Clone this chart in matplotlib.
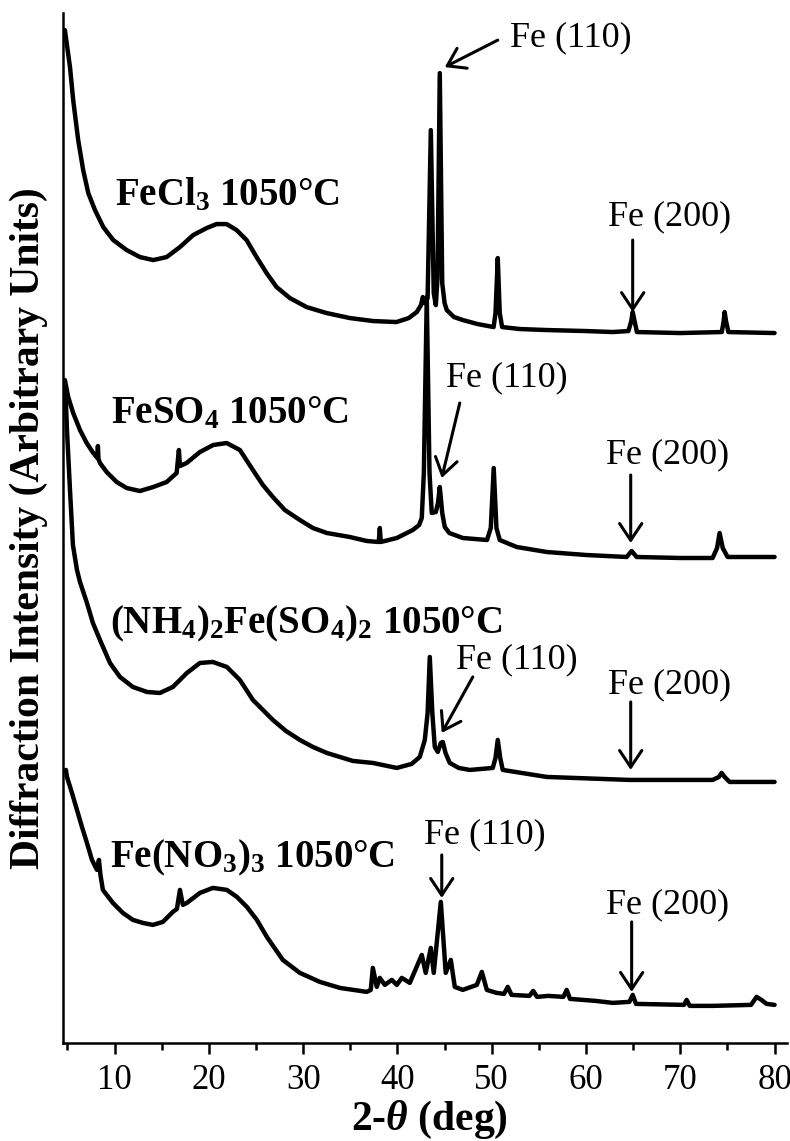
import numpy as np
import matplotlib
matplotlib.use('Agg')
import matplotlib.pyplot as plt
from matplotlib.ticker import MultipleLocator

plt.rcParams['font.family'] = ['Liberation Serif', 'DejaVu Serif']
plt.rcParams['mathtext.fontset'] = 'custom'
plt.rcParams['mathtext.rm'] = 'Liberation Serif'
plt.rcParams['mathtext.bf'] = 'Liberation Serif:bold'
plt.rcParams['mathtext.it'] = 'Liberation Serif:italic:bold'
plt.rcParams['mathtext.default'] = 'bf'

# XRD traces (2-theta in deg, intensity in arbitrary units, offsets included)
fecl3_x = [4.73, 5.27, 5.61, 6.14, 6.67, 7.21, 7.92, 8.80, 9.86, 11.28, 12.69, 14.10, 15.52,
           16.93, 18.34, 19.76, 20.82, 21.88, 22.94, 24.00, 25.06, 26.12, 27.18, 28.59, 30.36,
           32.48, 34.95, 37.42, 39.90, 41.2, 42.05, 42.5, 42.69, 42.9, 43.2, 43.54, 43.85,
           44.07, 44.25, 44.49, 44.75, 45.0, 45.23, 46.0, 46.93, 48.5, 50.2, 50.4, 50.64,
           50.85, 51.1, 53.0, 55.83, 60.0, 62.83, 64.5, 64.8, 64.95, 65.15, 65.4, 70.0,
           74.4, 74.6, 74.7, 74.85, 75.1, 80.0]
fecl3_y = [1013, 976, 943, 903, 873, 850, 833, 816, 803, 793, 786, 783, 786,
           796, 808, 815, 819, 819, 813, 803, 786, 770, 756, 745, 736,
           730, 725, 722, 721, 725, 731, 738, 746, 740, 745, 913, 750,
           738, 765, 970, 760, 740, 733, 726, 723, 719, 716, 730, 785,
           730, 716, 714, 713, 712, 711, 712, 722, 731, 722, 711, 710,
           711, 722, 731, 722, 711, 710]

feso4_x = [4.73, 5.08, 5.61, 6.33, 7.04, 7.74, 8.18, 8.23, 8.29, 8.45, 9.16, 10.22, 11.28,
           12.69, 14.10, 15.52, 16.58, 16.82, 16.93, 17.64, 19.05, 20.46, 21.88, 23.29, 24.67,
           25.73, 26.79, 28.06, 29.65, 31.03, 32.51, 34.95, 36.75, 38.02, 38.13, 38.23, 39.93,
           41.63, 42.3, 42.58, 42.8, 43.11, 43.4, 43.64, 44.07, 44.3, 44.49, 44.75, 45.02,
           45.5, 46.93, 49.5, 49.9, 50.21, 50.5, 50.85, 52.65, 55.83, 60.0, 64.31, 64.84,
           65.37, 70.0, 73.43, 73.9, 74.17, 74.5, 75.02, 80.0]
feso4_y = [663, 646, 630, 613, 600, 590, 585, 597, 584, 580, 571, 561, 555,
           552, 556, 561, 570, 593, 577, 580, 591, 598, 600, 593, 573,
           558, 546, 533, 523, 515, 510, 506, 502, 501, 515, 501, 505,
           513, 518, 525, 570, 746, 570, 530, 531, 540, 556, 530, 516,
           510, 505, 503, 515, 575, 515, 503, 496, 491, 488, 486, 492,
           486, 485, 485, 495, 510, 495, 486, 486]

nh4_x = [4.79, 4.95, 5.27, 5.58, 6.01, 6.33, 7.07, 7.70, 8.45, 9.51, 10.57, 11.94, 13.43,
         14.81, 16.18, 17.67, 19.05, 20.42, 21.91, 23.29, 24.67, 25.73, 26.79, 28.17, 29.65,
         31.03, 32.51, 35.27, 37.39, 39.93, 41.5, 42.37, 42.9, 43.2, 43.43, 43.7, 43.96,
         44.28, 44.6, 44.81, 45.1, 45.55, 46.5, 47.67, 50.11, 50.4, 50.64, 50.9, 51.17,
         55.83, 64.63, 73.43, 74.1, 74.38, 74.7, 75.23, 80.0]
nh4_y = [653, 613, 553, 498, 473, 461, 440, 420, 403, 380, 366, 356, 351,
         350, 356, 370, 380, 381, 376, 363, 343, 333, 323, 312, 303,
         296, 290, 282, 280, 275, 279, 286, 303, 330, 386, 330, 296,
         291, 300, 301, 290, 280, 275, 273, 275, 285, 303, 285, 273,
         266, 263, 263, 266, 270, 266, 261, 261]

feno3_x = [4.84, 4.95, 5.48, 6.01, 6.54, 7.07, 7.60, 8.13, 8.34, 8.50, 8.76, 9.82, 10.88,
           11.94, 13.00, 14.06, 15.12, 16.18, 16.61, 16.93, 17.24, 17.67, 19.05, 20.42, 21.91,
           22.97, 24.03, 25.09, 26.15, 27.84, 29.65, 31.77, 33.89, 36.75, 37.17, 37.39, 37.81,
           38.13, 38.66, 39.40, 39.93, 40.46, 41.31, 42.58, 43.00, 43.54, 43.85, 44.60, 45.12,
           45.66, 46.08, 46.93, 48.42, 48.95, 49.48, 50.5, 51.3, 51.7, 52.1, 54.0, 54.4,
           54.8, 56.0, 57.6, 57.95, 58.3, 61.0, 62.83, 64.6, 64.95, 65.3, 70.4, 70.67,
           71.0, 73.43, 77.5, 78.09, 78.6, 79.15, 80.0]
feno3_y = [273, 266, 250, 233, 216, 200, 183, 173, 183, 168, 153, 140, 130,
           123, 120, 118, 121, 131, 134, 153, 138, 140, 150, 155, 153,
           146, 136, 123, 106, 83, 70, 61, 55, 51, 53, 75, 56,
           65, 58, 63, 58, 65, 60, 88, 70, 95, 70, 141, 70,
           83, 56, 53, 58, 71, 53, 50, 49, 56, 48, 47, 52,
           46, 47, 46, 53, 44, 42, 40, 41, 48, 39, 38, 43,
           37, 37, 38, 46, 43, 39, 38]

traces = [(fecl3_x, fecl3_y), (feso4_x, feso4_y), (nh4_x, nh4_y), (feno3_x, feno3_y)]

sample_labels = [r'FeCl$_3$ 1050°C', r'FeSO$_4$ 1050°C',
                 r'(NH$_4$)$_2$Fe(SO$_4$)$_2$ 1050°C', r'Fe(NO$_3$)$_3$ 1050°C']
label_pos = [(10.04, 838), (9.61, 620), (9.51, 410), (9.51, 175)]

# peak markers: text centre, arrow tail, arrow tip
peak_text = ['Fe (110)', 'Fe (200)', 'Fe (110)', 'Fe (200)',
             'Fe (110)', 'Fe (200)', 'Fe (110)', 'Fe (200)']
peak_text_pos = [(58.4, 1005), (68.9, 826), (51.6, 665), (68.6, 588),
                 (52.7, 383), (68.9, 358), (49.3, 208), (68.7, 138)]
arrow_tail = [(50.64, 1003), (64.95, 803), (46.61, 640), (64.74, 568),
              (47.99, 366), (64.74, 341), (44.70, 188), (64.84, 121)]
arrow_tip = [(45.02, 976), (64.95, 731), (44.70, 565), (64.74, 500),
             (44.70, 310), (64.74, 273), (44.70, 145), (64.84, 51)]

fig = plt.figure(figsize=(7.9, 11.41), dpi=100)
ax = fig.add_axes([0.080, 0.086, 0.916, 0.9025])

for x, y in traces:
    ax.plot(x, y, color='black', lw=3.2, solid_joinstyle='round', solid_capstyle='round')

for txt, (lx, ly) in zip(sample_labels, label_pos):
    ax.text(lx, ly, txt, fontsize=28, fontweight='bold', ha='left', va='baseline')

for txt, tp, tail, tip in zip(peak_text, peak_text_pos, arrow_tail, arrow_tip):
    ax.text(tp[0], tp[1], txt, fontsize=26, ha='center', va='center')
    ax.annotate('', xy=tip, xytext=tail,
                arrowprops=dict(arrowstyle='->,head_length=1.2,head_width=0.8',
                                color='black', lw=2.2, shrinkA=0, shrinkB=0))

ax.set_xlim(4.55, 81.3)
ax.set_ylim(0, 1030)
ax.spines['top'].set_visible(False)
ax.spines['right'].set_visible(False)
ax.spines['left'].set_linewidth(1.8)
ax.spines['bottom'].set_linewidth(1.8)
ax.set_yticks([])
ax.xaxis.set_major_locator(MultipleLocator(10))
ax.xaxis.set_minor_locator(MultipleLocator(5))
ax.set_xticks(np.arange(10, 81, 10))
ax.tick_params(axis='x', which='major', length=8, width=1.8, labelsize=25, pad=7)
ax.tick_params(axis='x', which='minor', length=5, width=1.8)

fig.text(0.544, 0.018, r'2-$\mathit{\theta}$ (deg)', fontsize=30, fontweight='bold',
         ha='center', va='center')
fig.text(0.036, 0.537, 'Diffraction Intensity (Arbitrary Units)', fontsize=30,
         fontweight='bold', rotation=90, ha='center', va='center')

fig.savefig('out.png', dpi=100)
